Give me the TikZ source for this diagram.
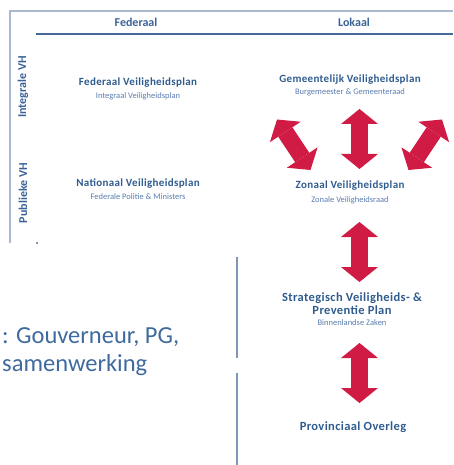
\documentclass[tikz,border=0pt]{standalone}
\usepackage{fontspec}
\setmainfont{Carlito}
\usetikzlibrary{arrows.meta}
\definecolor{ttl}{HTML}{2F5B8F}
\definecolor{subc}{HTML}{5A7DB0}
\definecolor{hdr}{HTML}{3A6296}
\definecolor{frame}{HTML}{A9B9CF}
\definecolor{rule}{HTML}{44699A}
\definecolor{vline}{HTML}{7F96B8}
\definecolor{arrowred}{HTML}{D01C44}
\definecolor{bigtxt}{HTML}{3F6A9E}
\begin{document}
\begin{tikzpicture}[x=1pt,y=-1pt,
  title/.style={font=\bfseries\fontsize{11}{12.5}\selectfont\addfontfeature{LetterSpace=3}, text=ttl, inner sep=0, align=center},
  bigtitle/.style={title, font=\bfseries\fontsize{12.5}{13}\selectfont\addfontfeature{LetterSpace=3}},
  sub/.style={font=\fontsize{8.5}{10}\selectfont, text=subc, inner sep=0},
  header/.style={font=\bfseries\fontsize{12}{13}\selectfont, text=hdr, inner sep=0},
  side/.style={font=\bfseries\fontsize{12}{13}\selectfont, text=hdr, inner sep=0, rotate=90},
  blockarrow/.style={arrowred, line width=17pt,
    {Triangle[length=15pt,width=37pt,line width=0pt]}-{Triangle[length=15pt,width=37pt,line width=0pt]}},
  framel/.style={frame, line width=1.5pt},
  vl/.style={vline, line width=1.5pt}]
\useasboundingbox (0,0) rectangle (453,465);
% frame
\draw[framel] (10,243) -- (10,11) -- (453,11);
\draw[rule, line width=2pt] (36,34) -- (453,34);
\fill[vline] (36.3,242.3) rectangle (37.7,243.7);
\draw[vl] (237,257) -- (237,358);
\draw[vl] (237,373) -- (237,465);
% headers
\node[header] (hfed) at (136,22) {Federaal};
\node[header] (hlok) at (354,22) {Lokaal};
\node[side] (sint) at (23,87) {Integrale VH};
\node[side] (spub) at (23,193) {Publieke VH};
% plans
\node[title] (fvp) at (138,83) {Federaal Veiligheidsplan};
\node[sub] (fvps) at (138,96) {Integraal Veiligheidsplan};
\node[title] (nvp) at (138,184) {Nationaal Veiligheidsplan};
\node[sub] (nvps) at (138,197) {Federale Politie \& Ministers};
\node[title] (gvp) at (350,80) {Gemeentelijk Veiligheidsplan};
\node[sub] (gvps) at (350,92) {Burgemeester \& Gemeenteraad};
\node[title] (zvp) at (350,186) {Zonaal Veiligheidsplan};
\node[sub] (zvps) at (350,200) {Zonale Veiligheidsraad};
\node[bigtitle] (svp) at (352,303.5) {Strategisch Veiligheids- \&\\Preventie Plan};
\node[sub] (svps) at (352,323) {Binnenlandse Zaken};
\node[bigtitle] (pov) at (353,427) {Provinciaal Overleg};
% left text
\node[font=\fontsize{24.5}{28}\selectfont, text=bigtxt, inner sep=0, anchor=base west, align=left] (gouv) at (2,371) {: Gouverneur, PG,\\samenwerking};
% arrows
\coordinate (a1t) at (359.5,109);  \coordinate (a1b) at (359.5,169);
\coordinate (a2t) at (359.5,222);  \coordinate (a2b) at (359.5,282);
\coordinate (a3t) at (359.5,343);  \coordinate (a3b) at (359.5,403);
\coordinate (dlt) at (277,119.5);  \coordinate (dlb) at (310.5,170);
\coordinate (drt) at (442,119.5);  \coordinate (drb) at (408.5,170);
\draw[blockarrow] (a1t) -- (a1b);
\draw[blockarrow] (a2t) -- (a2b);
\draw[blockarrow] (a3t) -- (a3b);
\draw[blockarrow] (dlt) -- (dlb);
\draw[blockarrow] (drt) -- (drb);
\end{tikzpicture}
\end{document}
